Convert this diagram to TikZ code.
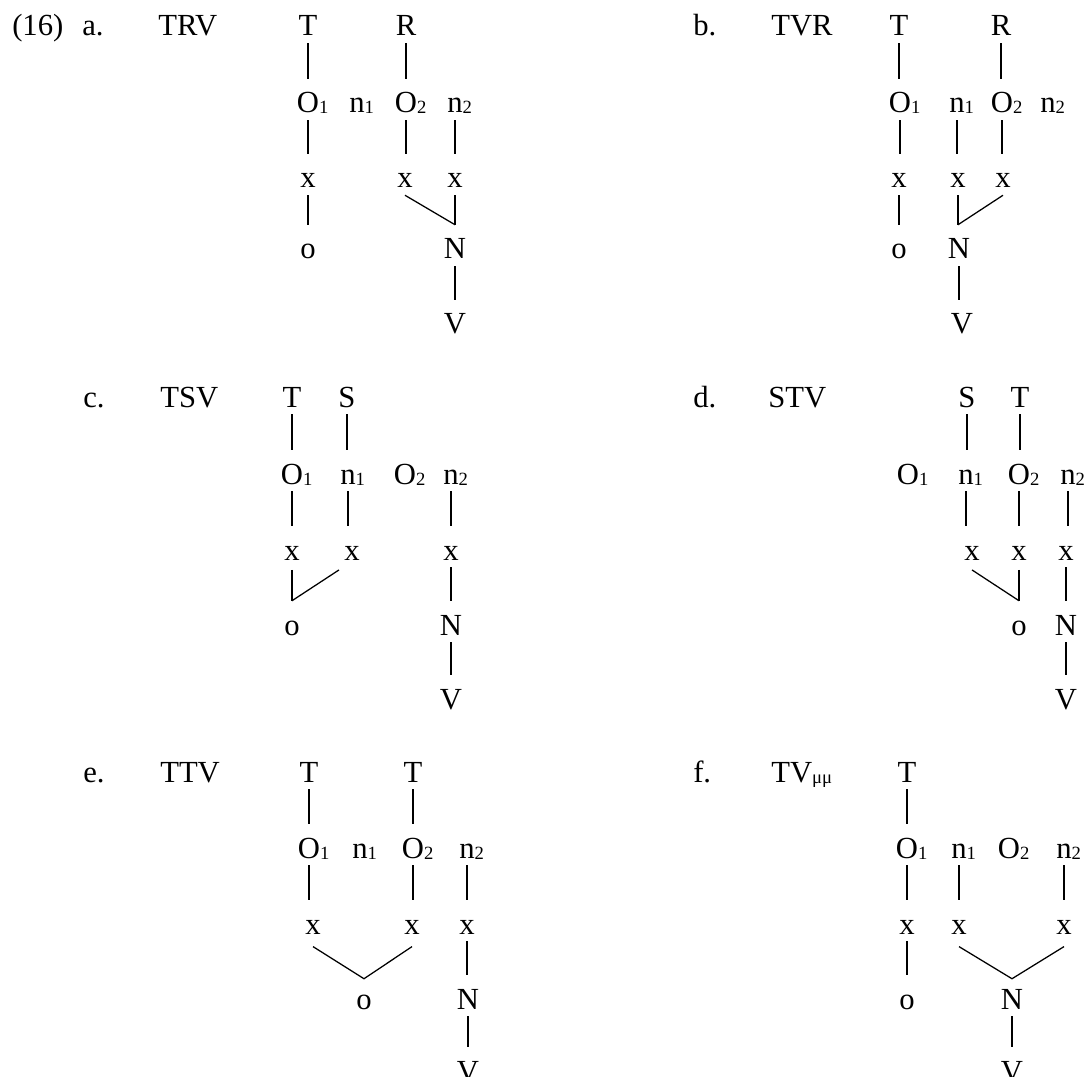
\documentclass[tikz,border=0pt]{standalone}
\usepackage{fontspec}
\setmainfont{Liberation Serif}
\newcommand\segfont{\fontsize{23}{23}\selectfont}
\newcommand\subdig[1]{\rlap{\raisebox{-0.75pt}{\fontsize{14}{14}\selectfont #1}}}
\tikzset{
  seg/.style={font=\segfont, inner sep=0pt, anchor=base, text height=25.5pt, text depth=5.25pt},
  lbl/.style={font=\segfont, inner sep=0pt, anchor=base west},
  tie/.style={line width=0.95pt},
}
\begin{document}
\begin{tikzpicture}[x=0.75pt, y=-0.75pt]
\useasboundingbox (0,0) rectangle (1090,1077);
\fill[white] (0,0) rectangle (1090,1077);

% ---------- (16a) TRV ----------
\node[lbl] (num) at (12,36) {(16)};
\node[lbl] (la) at (82,36) {a.};
\node[lbl] (ta) at (158,36) {TRV};
\node[seg] (aT)  at (308,36)  {T};
\node[seg] (aR)  at (406,36)  {R};
\node[seg] (aO1) at (308,113) {O\subdig{1}};
\node[seg] (an1) at (357,113) {n\subdig{1}};
\node[seg] (aO2) at (406,113) {O\subdig{2}};
\node[seg] (an2) at (455,113) {n\subdig{2}};
\node[seg] (ax1) at (308,188) {x};
\node[seg] (ax3) at (405,188) {x};
\node[seg] (ax4) at (455,188) {x};
\node[seg] (ao)  at (308,259) {o};
\node[seg] (aN)  at (455,259) {N};
\node[seg] (aV)  at (455,334) {V};
\draw[tie] (aT.south) -- (aT.south |- aO1.north);
\draw[tie] (aR.south) -- (aR.south |- aO2.north);
\draw[tie] (aO1.south) -- (aO1.south |- ax1.north);
\draw[tie] (aO2.south) -- (aO2.south |- ax3.north);
\draw[tie] (an2.south) -- (an2.south |- ax4.north);
\draw[tie] (ax1.south) -- (ax1.south |- ao.north);
\draw[tie] (ax3.south) -- (aN.north);
\draw[tie] (ax4.south) -- (ax4.south |- aN.north);
\draw[tie] (aN.south) -- (aN.south |- aV.north);

% ---------- (16b) TVR ----------
\node[lbl] (lb) at (693,36) {b.};
\node[lbl] (tb) at (771,36) {TVR};
\node[seg] (bT)  at (899,36)  {T};
\node[seg] (bR)  at (1001,36) {R};
\node[seg] (bO1) at (900,113) {O\subdig{1}};
\node[seg] (bn1) at (957,113) {n\subdig{1}};
\node[seg] (bO2) at (1002,113) {O\subdig{2}};
\node[seg] (bn2) at (1048,113) {n\subdig{2}};
\node[seg] (bx1) at (899,188) {x};
\node[seg] (bx2) at (958,188) {x};
\node[seg] (bx3) at (1003,188) {x};
\node[seg] (bo)  at (899,259) {o};
\node[seg] (bN)  at (959,259) {N};
\node[seg] (bV)  at (962,334) {V};
\draw[tie] (bT.south) -- (bT.south |- bO1.north);
\draw[tie] (bR.south) -- (bR.south |- bO2.north);
\draw[tie] (bO1.south) -- (bO1.south |- bx1.north);
\draw[tie] (bn1.south) -- (bn1.south |- bx2.north);
\draw[tie] (bO2.south) -- (bO2.south |- bx3.north);
\draw[tie] (bx1.south) -- (bx1.south |- bo.north);
\draw[tie] (bx2.south) -- (bx2.south |- bN.north);
\draw[tie] (bx3.south) -- (bx2.south |- bN.north);
\draw[tie] (bN.south) -- (bN.south |- bV.north);

% ---------- (16c) TSV ----------
\node[lbl] (lc) at (83,407) {c.};
\node[lbl] (tc) at (160,407) {TSV};
\node[seg] (cT)  at (292,407) {T};
\node[seg] (cS)  at (347,407) {S};
\node[seg] (cO1) at (292,484) {O\subdig{1}};
\node[seg] (cn1) at (348,484) {n\subdig{1}};
\node[seg] (cO2) at (405,484) {O\subdig{2}};
\node[seg] (cn2) at (451,484) {n\subdig{2}};
\node[seg] (cx1) at (292,560) {x};
\node[seg] (cx2) at (352,560) {x};
\node[seg] (cx4) at (451,560) {x};
\node[seg] (co)  at (292,635) {o};
\node[seg] (cN)  at (451,635) {N};
\node[seg] (cV)  at (451,709) {V};
\draw[tie] (cT.south) -- (cT.south |- cO1.north);
\draw[tie] (cS.south) -- (cS.south |- cn1.north);
\draw[tie] (cO1.south) -- (cO1.south |- cx1.north);
\draw[tie] (cn1.south) -- (cn1.south |- cx2.north);
\draw[tie] (cn2.south) -- (cn2.south |- cx4.north);
\draw[tie] ([yshift=-2pt]cx1.south) -- (co.north);
\draw[tie] ([xshift=-9.75pt,yshift=-2pt]cx2.south) -- (co.north);
\draw[tie] (cx4.south) -- (cx4.south |- cN.north);
\draw[tie] (cN.south) -- (cN.south |- cV.north);

% ---------- (16d) STV ----------
\node[lbl] (ld) at (693,407) {d.};
\node[lbl] (td) at (768,407) {STV};
\node[seg] (dS)  at (967,407) {S};
\node[seg] (dT)  at (1020,407) {T};
\node[seg] (dO1) at (908,484) {O\subdig{1}};
\node[seg] (dn1) at (966,484) {n\subdig{1}};
\node[seg] (dO2) at (1019,484) {O\subdig{2}};
\node[seg] (dn2) at (1068,484) {n\subdig{2}};
\node[seg] (dx1) at (972,560) {x};
\node[seg] (dx2) at (1019,560) {x};
\node[seg] (dx3) at (1066,560) {x};
\node[seg] (dlo) at (1019,635) {o};
\node[seg] (dN)  at (1066,635) {N};
\node[seg] (dV)  at (1066,709) {V};
\draw[tie] (dS.south) -- (dS.south |- dn1.north);
\draw[tie] (dT.south) -- (dT.south |- dO2.north);
\draw[tie] (dn1.south) -- (dn1.south |- dx1.north);
\draw[tie] (dO2.south) -- (dO2.south |- dx2.north);
\draw[tie] (dn2.south) -- (dn2.south |- dx3.north);
\draw[tie] ([yshift=-2pt]dx1.south) -- (dlo.north);
\draw[tie] ([yshift=-2pt]dx2.south) -- (dlo.north);
\draw[tie] (dx3.south) -- (dx3.south |- dN.north);
\draw[tie] (dN.south) -- (dN.south |- dV.north);

% ---------- (16e) TTV ----------
\node[lbl] (le) at (83,782) {e.};
\node[lbl] (te) at (160,782) {TTV};
\node[seg] (eT1) at (309,782) {T};
\node[seg] (eT2) at (413,782) {T};
\node[seg] (eO1) at (309,858) {O\subdig{1}};
\node[seg] (en1) at (360,858) {n\subdig{1}};
\node[seg] (eO2) at (413,858) {O\subdig{2}};
\node[seg] (en2) at (467,858) {n\subdig{2}};
\node[seg] (ex1) at (313,934) {x};
\node[seg] (ex2) at (412,934) {x};
\node[seg] (ex3) at (467,934) {x};
\node[seg] (eo)  at (364,1009) {o};
\node[seg] (eN)  at (468,1009) {N};
\node[seg] (eV)  at (468,1081) {V};
\draw[tie] (eT1.south) -- (eT1.south |- eO1.north);
\draw[tie] (eT2.south) -- (eT2.south |- eO2.north);
\draw[tie] (eO1.south) -- (eO1.south |- ex1.north);
\draw[tie] (eO2.south) -- (eO2.south |- ex2.north);
\draw[tie] (en2.south) -- (en2.south |- ex3.north);
\draw[tie] ([yshift=-4pt]ex1.south) -- ([yshift=-3pt]eo.north) -- ([yshift=-4pt]ex2.south);
\draw[tie] (ex3.south) -- (ex3.south |- eN.north);
\draw[tie] (eN.south) -- (eN.south |- eV.north);

% ---------- (16f) TV_mumu ----------
\node[lbl] (lf) at (693,782) {f.};
\node[lbl] (tf) at (771,782) {TV\raisebox{-0.75pt}{\fontsize{14}{14}\selectfont μμ}};
\node[seg] (fT)  at (907,782) {T};
\node[seg] (fO1) at (907,858) {O\subdig{1}};
\node[seg] (fn1) at (959,858) {n\subdig{1}};
\node[seg] (fO2) at (1009,858) {O\subdig{2}};
\node[seg] (fn2) at (1064,858) {n\subdig{2}};
\node[seg] (fx1) at (907,934) {x};
\node[seg] (fx2) at (959,934) {x};
\node[seg] (fx3) at (1064,934) {x};
\node[seg] (fo)  at (907,1009) {o};
\node[seg] (fN)  at (1012,1009) {N};
\node[seg] (fV)  at (1012,1081) {V};
\draw[tie] (fT.south) -- (fT.south |- fO1.north);
\draw[tie] (fO1.south) -- (fO1.south |- fx1.north);
\draw[tie] (fn1.south) -- (fn1.south |- fx2.north);
\draw[tie] (fn2.south) -- (fn2.south |- fx3.north);
\draw[tie] (fx1.south) -- (fx1.south |- fo.north);
\draw[tie] ([yshift=-4pt]fx2.south) -- ([yshift=-3pt]fN.north) -- ([yshift=-4pt]fx3.south);
\draw[tie] (fN.south) -- (fN.south |- fV.north);
\end{tikzpicture}
\end{document}
